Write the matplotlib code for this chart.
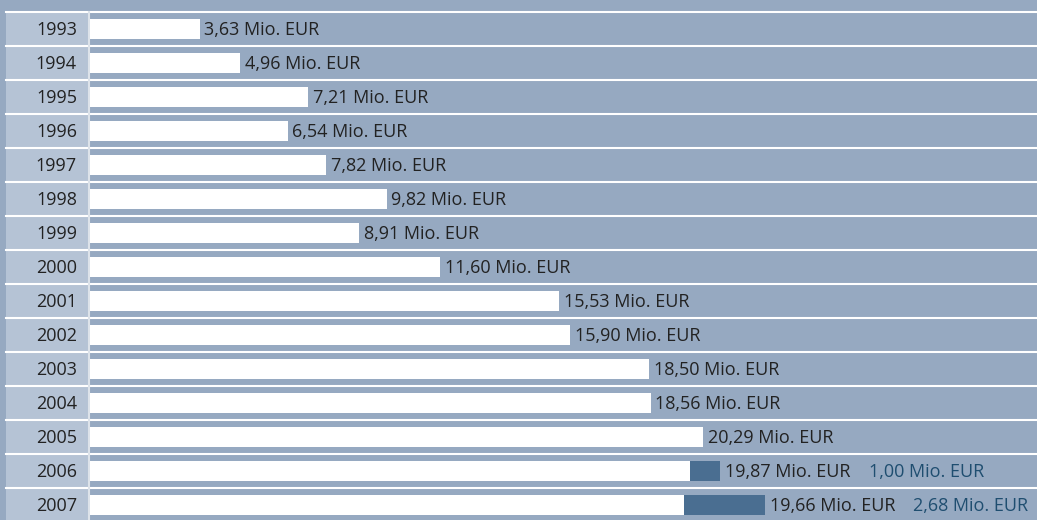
import matplotlib
matplotlib.use("Agg")
import matplotlib.pyplot as plt
from matplotlib.patches import Rectangle
from matplotlib.transforms import blended_transform_factory

years = ["1993", "1994", "1995", "1996", "1997", "1998", "1999", "2000",
         "2001", "2002", "2003", "2004", "2005", "2006", "2007"]
main_values = [3.63, 4.96, 7.21, 6.54, 7.82, 9.82, 8.91, 11.60,
               15.53, 15.90, 18.50, 18.56, 20.29, 19.87, 19.66]
extra_values = [0, 0, 0, 0, 0, 0, 0, 0, 0, 0, 0, 0, 0, 1.00, 2.68]

BG = "#96a9c1"
COL = "#b5c3d5"
DARK = "#4a6e91"
TXT = "#222222"
TXT2 = "#1f4e70"

W, H = 1037, 520
fig = plt.figure(figsize=(W / 100, H / 100), dpi=100)
fig.patch.set_facecolor(BG)
ax = fig.add_axes([0, 0, 1, 1])
ax.set_facecolor(BG)

ppu = 30.2          # pixels per unit
x0 = 90             # pixel where bars start
row_h = 34.0
top = 12.0
ax.set_xlim(-x0 / ppu, (W - x0) / ppu)
ax.set_ylim((H - top) / row_h - 0.5, -0.5 - top / row_h)
ax.axis("off")

def fmt(v):
    return f"{v:.2f}".replace(".", ",") + " Mio. EUR"

top_frac = 1 - top / H

# label column (below the top rule)
ax.add_patch(Rectangle((6 / W, 0), (89 - 6) / W, top_frac, transform=ax.transAxes,
                       facecolor=COL, edgecolor="none", zorder=0.5))

n = len(years)
for i in range(n + 1):
    ax.axhline(i - 0.5, xmin=6 / W, xmax=1, color="white", lw=1.5, zorder=1)
ax.axvline(-1 / ppu, ymin=0, ymax=top_frac, color="#dde3ea", lw=1.5, zorder=1)

ys = list(range(n))
ax.barh(ys, main_values, height=0.56, color="white", zorder=2)
ax.barh(ys, extra_values, left=main_values, height=0.56, color=DARK, zorder=2)

tr = blended_transform_factory(fig.transFigure, ax.transData)
font = dict(family=["Open Sans", "DejaVu Sans"], fontsize=13)
for i, (yr, mv, ev) in enumerate(zip(years, main_values, extra_values)):
    ax.text(77 / W, i + 0.03, yr, transform=tr, ha="right", va="center",
            color=TXT, zorder=3, **font)
    end = mv + ev
    ax.annotate(fmt(mv), (end, i + 0.03), xytext=(3.5, 0), textcoords="offset points",
                ha="left", va="center", color=TXT, zorder=3, **font)
    if ev > 0:
        ax.annotate(fmt(ev), (end, i + 0.03), xytext=(107, 0), textcoords="offset points",
                    ha="left", va="center", color=TXT2, zorder=3, **font)

fig.savefig("out.png", dpi=100, facecolor=BG)
